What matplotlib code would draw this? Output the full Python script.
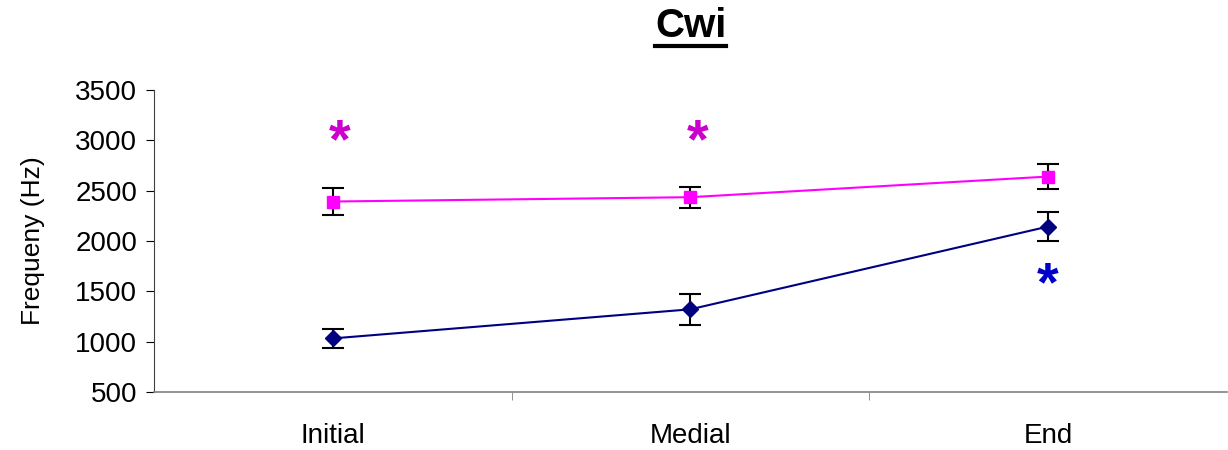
import numpy as np
import matplotlib
matplotlib.use("Agg")
import matplotlib.pyplot as plt
from matplotlib.lines import Line2D
from matplotlib.transforms import offset_copy

plt.rcParams["font.family"] = ["Liberation Sans", "DejaVu Sans"]

positions = ["Initial", "Medial", "End"]
pink_vals = [2392, 2435, 2640]
pink_err = [135, 103, 125]
navy_vals = [1032, 1321, 2143]
navy_err = [97, 156, 145]
star_pink_y = [3100, 3100]
star_pink_x = [0, 1]
star_navy_y = [1680]
star_navy_x = [2]

fig = plt.figure(figsize=(12.28, 4.5), dpi=100)
ax = fig.add_axes([0.1254, 0.129, 0.8736, 0.671])
x = np.arange(len(positions))

ax.errorbar(x, pink_vals, yerr=pink_err, color="#FF00FF", marker="s", ms=9, lw=1.5,
            ecolor="black", elinewidth=1.5, capsize=8, capthick=1.5, zorder=3)
ax.errorbar(x, navy_vals, yerr=navy_err, color="#000080", marker="D", ms=8, lw=1.5,
            ecolor="black", elinewidth=1.5, capsize=8, capthick=1.5, zorder=3)
# font asterisks sit high in the em box, so shift them down a bit
star_tr = offset_copy(ax.transData, fig=fig, x=0, y=-13, units="dots")
for xi, yi in zip(star_pink_x, star_pink_y):
    ax.text(xi + 0.02, yi, "*", color="#CC00CC", fontsize=40, ha="center", va="center",
            fontweight="bold", transform=star_tr)
for xi, yi in zip(star_navy_x, star_navy_y):
    ax.text(xi, yi, "*", color="#0000CC", fontsize=40, ha="center", va="center",
            fontweight="bold", transform=star_tr)

ax.set_xlim(-0.5, 2.5)
ax.set_ylim(500, 3500)
ax.set_yticks(range(500, 3501, 500))
ax.set_xticks(x)
ax.set_xticklabels(positions)
ax.set_xticks([0.5, 1.5], minor=True)
ax.tick_params(axis="x", which="major", length=0, pad=22, labelsize=20)
ax.tick_params(axis="x", which="minor", length=6, direction="out", color="#808080")
ax.tick_params(axis="y", length=6, direction="out", labelsize=20, pad=6)
for s in ["top", "right"]:
    ax.spines[s].set_visible(False)
ax.spines["bottom"].set_color("#808080")
ax.spines["bottom"].set_linewidth(1.2)
ax.spines["left"].set_color("#404040")
ax.set_ylabel("Frequeny (Hz)", fontsize=19, labelpad=22)

t = fig.text(0.5625, 0.918, "Cwi", fontsize=29, fontweight="bold", ha="center", va="baseline")
fig.canvas.draw()
bb = t.get_window_extent()
y_line = (bb.y0 - 1) / fig.bbox.height
fig.add_artist(Line2D([bb.x0 / fig.bbox.width, bb.x1 / fig.bbox.width], [y_line, y_line],
                      color="black", lw=3, transform=fig.transFigure))

fig.savefig("out.png", dpi=100)
